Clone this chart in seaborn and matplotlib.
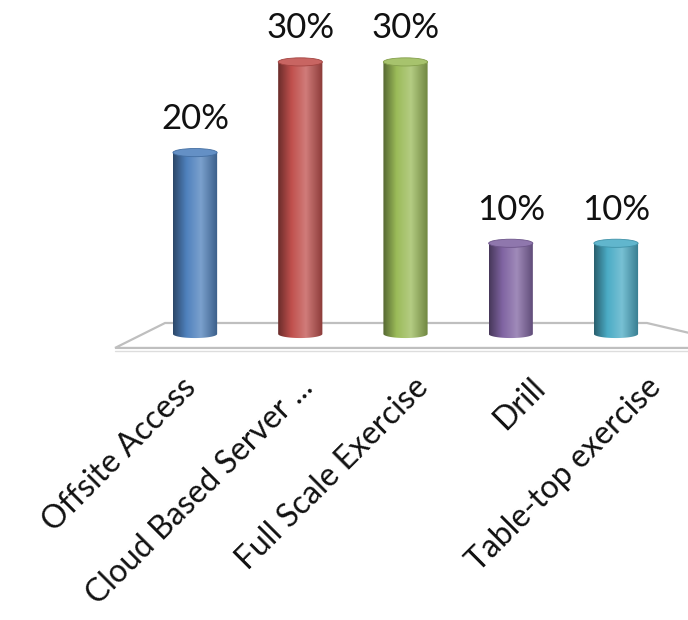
import numpy as np
import matplotlib
matplotlib.use("Agg")
import matplotlib.pyplot as plt
import matplotlib.transforms as mtransforms
from matplotlib.path import Path
from matplotlib.patches import Ellipse, Polygon
from matplotlib.colors import LinearSegmentedColormap, to_rgb
import seaborn as sns

categories = ["Offsite Access", "Cloud Based Server ...", "Full Scale Exercise", "Drill", "Table-top exercise"]
values = [20, 30, 30, 10, 10]
value_labels = ["20%", "30%", "30%", "10%", "10%"]
colors = ["#4F81BD", "#C0504D", "#9BBB59", "#8064A2", "#4BACC6"]

sns.set_theme(style="white")
plt.rcParams["font.family"] = ["Lato", "DejaVu Sans"]

W, H = 688, 620
fig = plt.figure(figsize=(W / 100, H / 100), dpi=100)
ax = fig.add_axes([0.2070, 0.4321, 0.7648, 0.4973])

sns.barplot(x=categories, y=values, hue=categories, palette=colors,
            legend=False, width=0.42, ax=ax, saturation=1)
ax.set_xlim(-0.5, 4.5)
ax.set_ylim(-2, 32)

# floor (3D-looking base plane)
floor = Polygon([(-0.76, -1.54), (-0.285, 1.21), (4.294, 1.21), (5.3, -1.54)],
                closed=True, facecolor="white", edgecolor="#BFBFBF", lw=1.6,
                clip_on=False, zorder=1)
ax.add_patch(floor)
ax.plot([-0.76, 5.3], [-1.85, -1.85], color="#DDDDDD", lw=1.0, clip_on=False, zorder=1)

cap_h = 0.9

def make_cmap(c):
    r = np.array(to_rgb(c))
    dark = r * 0.55
    light = r + (1 - r) * 0.25
    right = r * 0.72
    return LinearSegmentedColormap.from_list(
        "g", [(0, dark), (0.3, r), (0.62, light), (1.0, right)])

for i, p in enumerate(ax.patches[:len(values)]):
    x0, w, h = p.get_x(), p.get_width(), p.get_height()
    c = colors[i]
    p.set_facecolor("none")
    p.set_edgecolor("none")
    theta = np.linspace(np.pi, 2 * np.pi, 60)
    ex = x0 + w / 2 + (w / 2) * np.cos(theta)
    ey = (cap_h / 2) * np.sin(theta)
    verts = [(x0, h)] + list(zip(ex, ey)) + [(x0 + w, h), (x0, h)]
    path = Path(verts)
    grad = np.linspace(0, 1, 256).reshape(1, -1)
    im = ax.imshow(grad, cmap=make_cmap(c), aspect="auto",
                   extent=(x0, x0 + w, -cap_h, h), zorder=3, interpolation="bilinear")
    im.set_clip_path(path, transform=ax.transData)
    r = np.array(to_rgb(c))
    cap_col = r + (1 - r) * 0.12
    ax.add_patch(Ellipse((x0 + w / 2, h), w, cap_h, facecolor=cap_col,
                         edgecolor=r * 0.85, lw=0.6, zorder=4))
    ax.annotate(value_labels[i], xy=(x0 + w / 2, h + cap_h / 2), xytext=(0, 14),
                textcoords="offset points", ha="center", va="baseline",
                fontsize=25, color="#111111", zorder=5)

for s in ax.spines.values():
    s.set_visible(False)
ax.set_yticks([])
ax.set_xlabel("")
ax.set_ylabel("")
ax.tick_params(axis="x", length=0, pad=24)
ax.set_xticks(range(len(categories)))
ax.set_xticklabels(categories, rotation=45, ha="right", va="top",
                   rotation_mode="anchor", fontsize=23, color="#111111")
for i, lab in enumerate(ax.get_xticklabels()):
    dx = (-14 + 11 * i) / 100
    lab.set_transform(lab.get_transform() +
                      mtransforms.ScaledTranslation(dx, 0.13, fig.dpi_scale_trans))

fig.savefig("out.png", dpi=100, facecolor="white")
